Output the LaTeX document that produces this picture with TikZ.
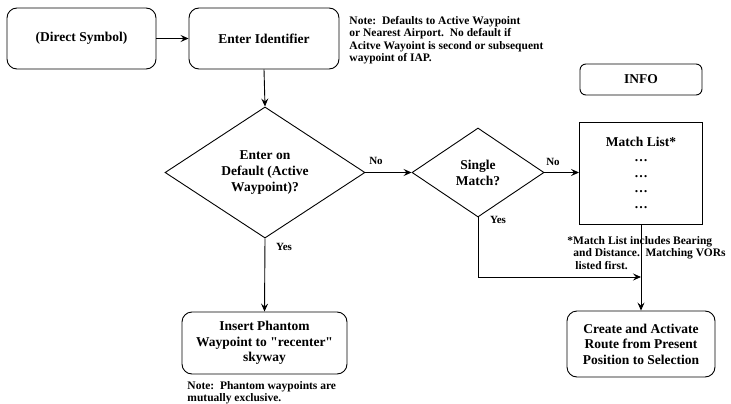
\documentclass[tikz,border=0pt]{standalone}
\usepackage{fontspec}
% plain family without the TeX quote mapping, so " stays a straight quote
\newfontfamily\lsr{Liberation Serif}
\usetikzlibrary{shapes.geometric,arrows.meta}
\begin{document}
\begin{tikzpicture}[x=1pt,y=-1pt,
  line width=0.9pt,
  box/.style={draw, rounded corners=10pt, align=center, inner sep=0pt,
    font=\fontsize{13.5}{15.5}\selectfont\lsr\bfseries},
  decision/.style={draw, diamond, align=center, inner sep=0pt,
    font=\fontsize{13.5}{16}\selectfont\lsr\bfseries},
  listbox/.style={draw, inner sep=0pt},
  boxtext/.style={inner sep=0pt, font=\fontsize{13.5}{15.5}\selectfont\lsr\bfseries},
  note/.style={align=left, inner sep=0pt, font=\fontsize{11.5}{12.5}\selectfont\lsr\bfseries},
  lbl/.style={inner sep=0pt, font=\fontsize{11}{12}\selectfont\lsr\bfseries},
  arr/.style={draw, -{Stealth[length=8pt,width=7pt,inset=3pt]}}
]
\useasboundingbox (0,0) rectangle (731,404);

% process boxes
\node[box, minimum width=149pt, minimum height=61pt] (ds) at (81.5,38.5) {(Direct Symbol)};
\node[box, minimum width=150pt, minimum height=61pt] (ei) at (264,38.5) {Enter Identifier};
\node[box, rounded corners=6pt, minimum width=122pt, minimum height=31pt] (info) at (641,79.5) {INFO};
\node[box, minimum width=165pt, minimum height=62pt] (ip) at (264.5,343) {Insert Phantom\\Waypoint to "recenter"\\skyway};
\node[box, minimum width=148pt, minimum height=66pt] (cr) at (641,344) {Create and Activate\\Route from Present\\Position to Selection};

% decisions
\node[decision, minimum width=200pt, minimum height=131pt] (d1) at (265,172.5) {Enter on\\Default (Active\\Waypoint)?};
\node[decision, minimum width=132pt, minimum height=89pt] (d2) at (478,172.5) {Single\\Match?};

% match list
\node[listbox, minimum width=123pt, minimum height=102pt] (ml) at (641,173) {};
\node[boxtext] (mlt) at (641,142) {Match List*};
\node[boxtext] (dot1) at (641,161) {\ldots};
\node[boxtext] (dot2) at (641,176.5) {\ldots};
\node[boxtext] (dot3) at (641,192) {\ldots};
\node[boxtext] (dot4) at (641,207.5) {\ldots};

% notes
\node[note, anchor=west] (n1) at (349,40) {Note:\ \ Defaults to Active Waypoint\\or Nearest Airport.\ \ No default if\\Acitve Wayoint is second or subsequent\\waypoint of IAP.};
\node[note, anchor=west] (n2) at (567,253) {*Match List includes Bearing\\\hspace*{6pt}and Distance.\ \ Matching VORs\\\hspace*{8pt}listed first.};
\node[note, anchor=west] (n3) at (187,392.5) {Note:\ \ Phantom waypoints are\\mutually exclusive.};

% junction where the single-match branch joins
\coordinate (j) at (641,277);

% connectors
\draw[arr] (ds.east) -- (ei.west);
\draw[arr] (ei.south) -- (d1.north);
\draw[arr] (d1.east) -- (d2.west);
\draw[arr] (d2.east) -- (d2.east -| ml.west);
\draw[arr] (d1.south) -- (ip.north);
\draw[arr] (ml.south) -- (cr.north);
\draw[arr] (d2.south) |- (j);

% branch labels
\node[lbl] (no1) at (376,161) {No};
\node[lbl] (no2) at (553,161.5) {No};
\node[lbl] (yes1) at (284,246.5) {Yes};
\node[lbl] (yes2) at (498,220) {Yes};
\end{tikzpicture}
\end{document}
